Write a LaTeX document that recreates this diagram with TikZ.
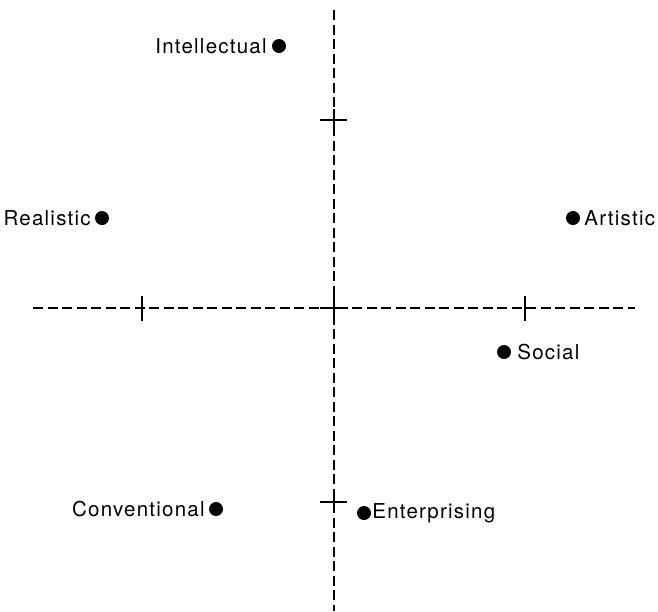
\documentclass[tikz,border=0pt]{standalone}
\usepackage{fontspec}
\setmainfont{TeX Gyre Heros}[LetterSpace=6]
\usetikzlibrary{positioning}

\tikzset{
	achse/.style={line width=2.1pt, dash pattern=on 10pt off 4.5pt},
	strich/.style={line width=2.1pt},
	punkt/.style={circle, fill=black, inner sep=0pt, minimum size=14pt},
	typ/.style={inner sep=1pt, font=\fontsize{20.5}{24}\selectfont}
}

\begin{document}
\begin{tikzpicture}[x=1pt, y=-1pt]
	\useasboundingbox (0,0) rectangle (658,611);
	% Achsen
	\draw[achse] (334,10) -- (334,611);
	\draw[achse] (33,308) -- (635,308);
	% Markierungen
	\foreach \y in {120,308,502}
		\draw[strich] (320,\y) -- (347,\y);
	\foreach \y in {120,308,502}
		\draw[strich] (334,\y-11) -- (334,\y+11);
	\foreach \x in {142,334,525}
		\draw[strich] (\x,296) -- (\x,321);
	% Punkte mit Beschriftung
	\node[punkt] (int) at (279,46) {};
	\node[typ, left=4pt of int] (intl) {Intellectual};
	\node[punkt] (real) at (102,218) {};
	\node[typ, left=3pt of real] (reall) {Realistic};
	\node[punkt] (art) at (573,218) {};
	\node[typ, right=3pt of art] (artl) {Artistic};
	\node[punkt] (soc) at (504,352) {};
	\node[typ, right=5pt of soc] (socl) {Social};
	\node[punkt] (conv) at (216,509) {};
	\node[typ, left=3pt of conv] (convl) {Conventional};
	\node[punkt] (ent) at (364,513) {};
	\node[typ, right=0pt of ent] (entl) {Enterprising};
\end{tikzpicture}
\end{document}
